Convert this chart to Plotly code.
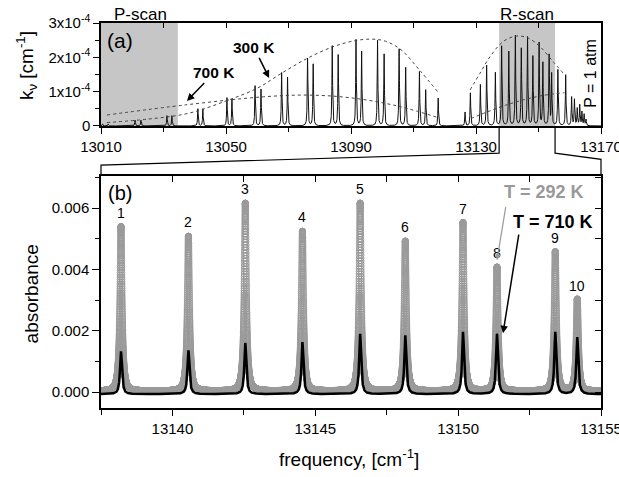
import numpy as np
import plotly.graph_objects as go

# ---------------- panel (a): stick spectrum, 1 atm ----------------
P_LINES = [13010.5, 13012.3, 13020.9, 13022.8, 13031.1, 13032.7, 13041.0, 13042.6,
           13050.3, 13051.9, 13059.3, 13061.2, 13067.8, 13069.7, 13076.1, 13077.9,
           13084.0, 13085.9, 13091.6, 13093.4, 13098.5, 13100.6, 13105.4, 13107.5,
           13111.9, 13113.9, 13117.9]
P_HEIGHTS = [0.06, 0.06, 0.17, 0.17, 0.30, 0.30, 0.50, 0.50,
             0.82, 0.78, 1.17, 1.07, 1.55, 1.42, 1.97, 1.80,
             2.33, 2.07, 2.51, 2.17, 2.49, 2.09, 2.24, 1.70,
             1.58, 1.05, 0.81]
R_LINES = [13126.5, 13128.2, 13131.4, 13133.4, 13136.2, 13138.2, 13140.5, 13142.6,
           13144.5, 13146.5, 13148.2, 13150.2, 13151.4, 13153.4, 13154.2, 13156.2,
           13158.7, 13160.6, 13161.5, 13162.4, 13163.2, 13163.9, 13164.6, 13165.2]
R_HEIGHTS = [0.40, 0.96, 1.20, 1.76, 1.55, 2.32, 2.16, 2.62,
             2.25, 2.58, 2.02, 2.41, 1.83, 2.05, 1.50, 1.63,
             1.48, 0.83, 0.76, 0.50, 0.60, 0.40, 0.33, 0.18]

ENV300_P_X = [13011.9, 13025, 13038, 13050, 13060, 13068, 13076, 13084, 13091, 13096.6, 13101, 13106, 13112, 13118]
ENV300_P_Y = [0.10, 0.20, 0.37, 0.73, 1.10, 1.55, 1.97, 2.30, 2.48, 2.53, 2.47, 2.22, 1.62, 0.97]
ENV700_P_X = [13011.9, 13037.5, 13062, 13076, 13090, 13105, 13118]
ENV700_P_Y = [0.32, 0.62, 0.85, 0.90, 0.82, 0.58, 0.24]
ENV300_R_X = [13128.1, 13131.3, 13134.5, 13138.7, 13143.0, 13146.7, 13150.5, 13154.7, 13157.9]
ENV300_R_Y = [1.05, 1.54, 2.02, 2.46, 2.62, 2.56, 2.31, 1.87, 1.54]
ENV700_R_X = [13128.4, 13139.6, 13150.3, 13158.3]
ENV700_R_Y = [0.22, 0.61, 0.87, 0.97]

P_SCAN = [13010.0, 13034.6]
R_SCAN = [13137.4, 13155.3]
TOP_RANGE = [13010, 13170]
TOP_XTICKS = [13010, 13050, 13090, 13130, 13170]
TOP_YTICKS = [0, 1e-4, 2e-4, 3e-4]
TOP_YTICKTEXT = ["0", "1x10<sup>-4</sup>", "2x10<sup>-4</sup>", "3x10<sup>-4</sup>"]

# ---------------- panel (b): measured absorbance ----------------
PEAK_NU = [13138.20, 13140.56, 13142.55, 13144.55, 13146.57, 13148.15, 13150.17, 13151.36, 13153.40, 13154.17]
A292 = [5.38, 5.06, 6.14, 5.22, 6.14, 4.90, 5.51, 4.05, 4.55, 3.00]   # x1e-3
A710 = [1.40, 1.43, 1.67, 1.70, 1.97, 1.92, 2.03, 1.97, 2.03, 1.86]   # x1e-3
PEAK_LABELS = [str(i + 1) for i in range(len(PEAK_NU))]
GAMMA_292 = 0.045
GAMMA_710 = 0.040
BASE_292 = 0.00002
BASE_710 = -0.00007
BOT_RANGE = [13137.5, 13155.0]
BOT_XTICKS = [13140, 13145, 13150, 13155]
BOT_YTICKS = [0, 0.002, 0.004, 0.006]

FONT = "Liberation Sans, Arial, sans-serif"


def lorentz_sum(x, centers, heights, gamma):
    y = np.zeros_like(x)
    for c, h in zip(centers, heights):
        y += h * gamma ** 2 / ((x - c) ** 2 + gamma ** 2)
    return y


xt = np.arange(TOP_RANGE[0], TOP_RANGE[1] + 1e-9, 0.02)
yt = lorentz_sum(xt, P_LINES + R_LINES, [h * 1e-4 for h in P_HEIGHTS + R_HEIGHTS], 0.12)

xb = np.round(np.arange(BOT_RANGE[0], BOT_RANGE[1] + 1e-9, 0.001), 4)
y292 = lorentz_sum(xb, PEAK_NU, [a * 1e-3 for a in A292], GAMMA_292) + BASE_292
y710 = lorentz_sum(xb, PEAK_NU, [a * 1e-3 for a in A710], GAMMA_710) + BASE_710

fig = go.Figure()
fig.add_trace(go.Scatter(x=xt, y=yt, mode="lines", line=dict(color="#111", width=1),
                         xaxis="x", yaxis="y", hoverinfo="skip"))
for ex, ey in [(ENV300_P_X, ENV300_P_Y), (ENV700_P_X, ENV700_P_Y),
               (ENV300_R_X, ENV300_R_Y), (ENV700_R_X, ENV700_R_Y)]:
    fig.add_trace(go.Scatter(x=ex, y=[v * 1e-4 for v in ey], mode="lines",
                             line=dict(color="#444", width=1, dash="dot", shape="spline", smoothing=1.0),
                             xaxis="x", yaxis="y", hoverinfo="skip"))
fig.add_trace(go.Scatter(x=xb, y=y292, mode="markers",
                         marker=dict(symbol="circle-open", size=6, color="#9a9a9a", line=dict(width=1)),
                         xaxis="x2", yaxis="y2", hoverinfo="skip"))
fig.add_trace(go.Scatter(x=xb, y=y710, mode="lines", line=dict(color="black", width=2.5),
                         xaxis="x2", yaxis="y2", hoverinfo="skip"))
fig.add_trace(go.Scatter(x=[13100], y=[1e-4], mode="markers", marker=dict(opacity=0),
                         xaxis="x3", yaxis="y", hoverinfo="skip"))
fig.add_trace(go.Scatter(x=[13145], y=[0.001], mode="markers", marker=dict(opacity=0),
                         xaxis="x4", yaxis="y4", hoverinfo="skip"))

TOP_DOM = [0.7325, 1.0]
BOT_DOM = [0.0, 0.6026]
axcommon = dict(showgrid=False, zeroline=False, linecolor="black", linewidth=1.5, automargin=False,
                tickcolor="black", tickwidth=1.2, tickfont=dict(size=15, family=FONT, color="black"))
ovcommon = dict(showticklabels=False, showline=False, showgrid=False, zeroline=False,
                tickcolor="black", tickwidth=1.2, automargin=False)

fig.update_layout(
    width=619, height=477, margin=dict(l=101, r=18, t=23, b=69, autoexpand=False),
    paper_bgcolor="white", plot_bgcolor="white", showlegend=False,
    font=dict(family=FONT, color="black"),
    xaxis=dict(domain=[0, 1], anchor="y", range=TOP_RANGE, tickmode="array",
               tickvals=TOP_XTICKS, ticktext=[str(v) for v in TOP_XTICKS],
               ticks="outside", ticklen=6, ticklabeloverflow="allow",
               minor=dict(tickvals=[13030, 13070, 13110, 13150], ticks="outside", ticklen=4,
                          tickcolor="black", showgrid=False),
               showline=True, mirror=True, **axcommon),
    xaxis3=dict(overlaying="x", side="top", anchor="y", range=TOP_RANGE, tickmode="array",
                tickvals=[13010 + 20 * i for i in range(9)], ticks="inside", ticklen=5, **ovcommon),
    yaxis=dict(domain=TOP_DOM, anchor="x", range=[0, 3e-4], tickmode="array",
               tickvals=TOP_YTICKS, ticktext=TOP_YTICKTEXT,
               ticks="outside", ticklen=6,
               minor=dict(tickvals=[0.5e-4, 1.5e-4, 2.5e-4], ticks="outside", ticklen=4,
                          tickcolor="black", showgrid=False),
               showline=True, mirror=True, **axcommon),
    xaxis2=dict(domain=[0, 1], anchor="y2", range=BOT_RANGE, tickmode="array",
                tickvals=BOT_XTICKS, ticktext=[str(v) for v in BOT_XTICKS],
                ticks="outside", ticklen=6, ticklabeloverflow="allow",
                minor=dict(tickvals=[13137.5, 13142.5, 13147.5, 13152.5], ticks="outside", ticklen=5,
                           tickcolor="black", showgrid=False),
                showline=True, mirror=True, **axcommon),
    xaxis4=dict(overlaying="x2", side="top", anchor="y2", range=BOT_RANGE, tickmode="array",
                tickvals=[13137.5 + 2.5 * i for i in range(8)], ticks="inside", ticklen=6, **ovcommon),
    yaxis2=dict(domain=BOT_DOM, anchor="x2", range=[-0.00052, 0.00705], tickmode="array",
                tickvals=BOT_YTICKS, ticktext=[f"{v:.3f}" for v in BOT_YTICKS],
                ticks="outside", ticklen=7,
                minor=dict(tickvals=[0.001, 0.003, 0.005, 0.007], ticks="outside", ticklen=4,
                           tickcolor="black", showgrid=False),
                showline=True, mirror=True, **axcommon),
    yaxis4=dict(overlaying="y2", side="right", anchor="x2", range=[-0.00052, 0.00705],
                tickmode="array", tickvals=[0.001 * i for i in range(8)], ticks="inside", ticklen=6,
                **ovcommon),
)

for a, b in [P_SCAN, R_SCAN]:
    fig.add_shape(type="rect", xref="x", yref="y domain", x0=a, x1=b, y0=0, y1=1,
                  fillcolor="#c6c6c6", line=dict(width=0), layer="below")


def top_paper_x(f):
    return (f - TOP_RANGE[0]) / (TOP_RANGE[1] - TOP_RANGE[0])


xl, xr = top_paper_x(R_SCAN[0]), top_paper_x(R_SCAN[1])
fig.add_shape(type="path", xref="paper", yref="paper",
              path=f"M {xl},{TOP_DOM[0]} L {xl},0.662 L 0,0.631 L 0,{BOT_DOM[1]}",
              line=dict(color="black", width=1.2))
fig.add_shape(type="path", xref="paper", yref="paper",
              path=f"M {xr},{TOP_DOM[0]} L {xr},0.662 L 1,0.646 L 1,{BOT_DOM[1]}",
              line=dict(color="black", width=1.2))

C = dict(xanchor="center", yanchor="middle", showarrow=False)
ann = []
ann.append(dict(text="(a)", xref="paper", yref="paper", x=0.008, y=0.955,
                xanchor="left", yanchor="middle", showarrow=False, font=dict(size=21)))
ann.append(dict(text="P-scan", xref="paper", yref="paper", x=top_paper_x(sum(P_SCAN) / 2 + 0.3),
                y=1.023, font=dict(size=17), **C))
ann.append(dict(text="R-scan", xref="paper", yref="paper", x=top_paper_x(sum(R_SCAN) / 2),
                y=1.023, font=dict(size=17), **C))
ann.append(dict(text="P = 1 atm", xref="paper", yref="paper", x=0.98, y=0.868,
                textangle=-90, font=dict(size=16), **C))
ann.append(dict(text="<b>300 K</b>", xref="x", yref="y", x=13063.8, y=1.40e-4, ax=-15, ay=-30,
                showarrow=True, arrowhead=2, arrowsize=1, arrowwidth=1.5, arrowcolor="black",
                font=dict(size=15.5)))
ann.append(dict(text="<b>700 K</b>", xref="x", yref="y", x=13037.5, y=0.73e-4, ax=27, ay=-28,
                showarrow=True, arrowhead=2, arrowsize=1, arrowwidth=1.5, arrowcolor="black",
                font=dict(size=15.5)))
ann.append(dict(text="(b)", xref="paper", yref="paper", x=0.01, y=0.558,
                xanchor="left", yanchor="middle", showarrow=False, font=dict(size=20)))
for nu, a, lab in zip(PEAK_NU, A292, PEAK_LABELS):
    ann.append(dict(text=lab, xref="x2", yref="y2", x=nu, y=a * 1e-3 + BASE_292, yanchor="bottom",
                    yshift=4, showarrow=False, font=dict(size=14)))
ann.append(dict(text="<b>T = 292 K</b>", xref="x2", yref="y2", x=13153.0, y=0.00652,
                font=dict(size=18, color="#999999"), **C))
ann.append(dict(text="<b>T = 710 K</b>", xref="x2", yref="y2", x=13153.31, y=0.00554,
                font=dict(size=18, color="black"), **C))
ann.append(dict(text="", xref="x2", yref="y2", x=13151.36, y=0.0043, ax=9, ay=-55,
                showarrow=True, arrowhead=2, arrowsize=1, arrowwidth=1.2, arrowcolor="#999999"))
ann.append(dict(text="", xref="x2", yref="y2", x=13151.57, y=0.00192, ax=16, ay=-100,
                showarrow=True, arrowhead=2, arrowsize=1, arrowwidth=1.5, arrowcolor="black"))
ann.append(dict(text="k<sub>ν</sub> [cm<sup>-1</sup>]", xref="paper", yref="paper", x=-0.15, y=0.888,
                textangle=-90, font=dict(size=19), **C))
ann.append(dict(text="absorbance", xref="paper", yref="paper", x=-0.14, y=0.295,
                textangle=-90, font=dict(size=19), **C))
ann.append(dict(text="frequency, [cm<sup>-1</sup>]", xref="paper", yref="paper", x=0.496, y=-0.13,
                font=dict(size=19), **C))
fig.update_layout(annotations=ann)

fig.write_html("out.html")
